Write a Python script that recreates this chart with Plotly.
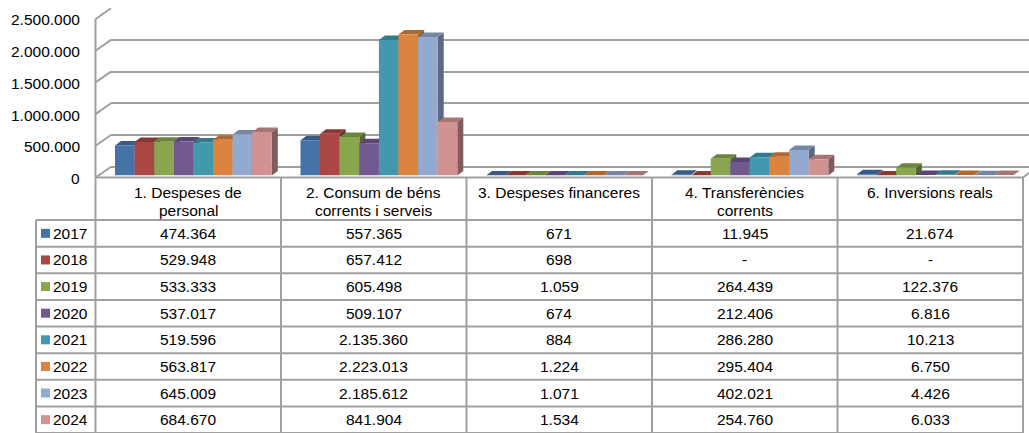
import plotly.graph_objects as go

W, H = 1029, 433

# ---------------- data ----------------
cat_line1 = ["1. Despeses de", "2. Consum de béns", "3. Despeses financeres", "4. Transferències", "6. Inversions reals"]
cat_line2 = ["personal", "corrents i serveis", "", "corrents", ""]
years = ["2017", "2018", "2019", "2020", "2021", "2022", "2023", "2024"]
v2017 = [474364, 557365, 671, 11945, 21674]
v2018 = [529948, 657412, 698, 0, 0]
v2019 = [533333, 605498, 1059, 264439, 122376]
v2020 = [537017, 509107, 674, 212406, 6816]
v2021 = [519596, 2135360, 884, 286280, 10213]
v2022 = [563817, 2223013, 1224, 295404, 6750]
v2023 = [645009, 2185612, 1071, 402021, 4426]
v2024 = [684670, 841904, 1534, 254760, 6033]
series = [v2017, v2018, v2019, v2020, v2021, v2022, v2023, v2024]
colors = ["#4572A7", "#AA4643", "#89A54E", "#71588F", "#4198AF", "#DB843D", "#93A9CF", "#D19392"]
y_ticks = [0, 500000, 1000000, 1500000, 2000000, 2500000]


def fmt(v):
    return "-" if v == 0 else f"{v:,}".replace(",", ".")


def shade(hexc, f):
    h = hexc.lstrip("#")
    r, g, b = (int(h[i:i + 2], 16) for i in (0, 2, 4))
    return "#%02x%02x%02x" % (int(r * f), int(g * f), int(b * f))


# ---------------- geometry (pixels) ----------------
TX0, TX1 = 95.5, 1023.0          # table / category columns
COLW = (TX1 - TX0) / 5
LABX0 = 36.0                      # row label column left edge
PPU = 31.7 / 500000               # pixels per unit
ZERO_FRONT = 177.5
ZERO_BAR = 175.5
ZERO_BACK = 166.7
BACK_X0 = 111.0
HEAD_BOT = 220.0
ROW_H = (433 - HEAD_BOT) / 8

GRID = "#a0a0a0"
FONT = "Liberation Sans, Arial, sans-serif"
FS = 15.5


def fx(px):
    return px / W


def fy(py):
    return 1 - py / H


fig = go.Figure()

# ---------- back wall subplot (xy): gridlines ----------
ylo_b, yhi_b = -15000, 2515000
fig.add_trace(go.Scatter(x=[0], y=[0], mode="markers", marker=dict(opacity=0),
                         xaxis="x", yaxis="y", hoverinfo="skip", showlegend=False))
fig.update_layout(
    xaxis=dict(domain=[fx(BACK_X0), 1], range=[0, 1], visible=False, fixedrange=True),
    yaxis=dict(domain=[fy(ZERO_BACK - ylo_b * PPU), fy(ZERO_BACK - yhi_b * PPU)],
               range=[ylo_b, yhi_b], tickvals=y_ticks, showticklabels=False,
               showgrid=True, gridcolor=GRID, gridwidth=2, zeroline=True,
               zerolinecolor=GRID, zerolinewidth=2, showline=False, ticks="",
               anchor="x", fixedrange=True),
)

# ---------- bars subplot (x2y2): 3D columns ----------
ylo, yhi = 0, 2600000
dx = 6 / COLW                     # depth offset in category units
dy = 4.5 / PPU                    # depth offset in value units
bw = 19.6 / COLW                  # single bar width
g0 = 19.5 / COLW                  # group start from column left

for ci in range(len(cat_line1)):
    for si, vals in enumerate(series):
        v = vals[ci]
        xl = ci - 0.5 + g0 + si * bw
        xr = xl + bw
        c = colors[si]
        # side face
        fig.add_trace(go.Scatter(
            x=[xr, xr + dx, xr + dx, xr, xr], y=[0, dy, v + dy, v, 0],
            fill="toself", fillcolor=shade(c, 0.62), mode="lines", line=dict(width=0),
            xaxis="x2", yaxis="y2", hoverinfo="skip", showlegend=False))
        # top face
        fig.add_trace(go.Scatter(
            x=[xl, xl + dx, xr + dx, xr, xl], y=[v, v + dy, v + dy, v, v],
            fill="toself", fillcolor=shade(c, 0.8), mode="lines", line=dict(width=0),
            xaxis="x2", yaxis="y2", hoverinfo="skip", showlegend=False))
        # front face
        fig.add_trace(go.Scatter(
            x=[xl, xr, xr, xl, xl], y=[0, 0, v, v, 0],
            fill="toself", fillcolor=c, mode="lines", line=dict(width=0),
            xaxis="x2", yaxis="y2", hoverinfo="skip", showlegend=False))

fig.update_layout(
    xaxis2=dict(domain=[fx(TX0), fx(TX1)], range=[-0.5, 4.5], visible=False,
                anchor="y2", fixedrange=True),
    yaxis2=dict(domain=[fy(ZERO_BAR - ylo * PPU), fy(ZERO_BAR - yhi * PPU)],
                range=[ylo, yhi], visible=False, anchor="x2", fixedrange=True),
)

shapes = []
annotations = []

# ---------- side wall + floor ----------
shapes.append(dict(type="line", xref="paper", yref="paper",
                   x0=fx(TX0), x1=fx(TX0), y0=fy(ZERO_FRONT), y1=fy(ZERO_FRONT - y_ticks[-1] * PPU),
                   line=dict(color=GRID, width=2)))
for t in y_ticks:
    shapes.append(dict(type="line", xref="paper", yref="paper",
                       x0=fx(TX0), y0=fy(ZERO_FRONT - t * PPU),
                       x1=fx(BACK_X0), y1=fy(ZERO_BACK - t * PPU),
                       line=dict(color=GRID, width=2)))
    annotations.append(dict(x=fx(82), xref="paper", xanchor="right",
                            y=t, yref="y2", yanchor="middle", yshift=-3,
                            text=fmt(t) if t else "0", showarrow=False,
                            font=dict(family=FONT, size=FS, color="#000000")))
# floor right edge
shapes.append(dict(type="line", xref="paper", yref="paper",
                   x0=fx(TX1), y0=fy(ZERO_FRONT), x1=1.0, y1=fy(ZERO_FRONT - 4.5),
                   line=dict(color=GRID, width=2)))

# ---------- data table ----------
shapes.append(dict(type="line", xref="paper", yref="paper",
                   x0=fx(TX0), x1=fx(TX1), y0=fy(ZERO_FRONT), y1=fy(ZERO_FRONT),
                   line=dict(color=GRID, width=2)))
for r in range(9):
    yy = HEAD_BOT + r * ROW_H
    shapes.append(dict(type="line", xref="paper", yref="paper",
                       x0=fx(LABX0), x1=fx(TX1), y0=fy(yy), y1=fy(yy),
                       line=dict(color=GRID, width=2)))
shapes.append(dict(type="line", xref="paper", yref="paper",
                   x0=fx(LABX0), x1=fx(LABX0), y0=fy(HEAD_BOT), y1=0,
                   line=dict(color=GRID, width=2)))
for k in range(6):
    xx = TX0 + k * COLW
    shapes.append(dict(type="line", xref="paper", yref="paper",
                       x0=fx(xx), x1=fx(xx), y0=fy(ZERO_FRONT), y1=0,
                       line=dict(color=GRID, width=2)))

for ci in range(len(cat_line1)):
    cx = TX0 + (ci + 0.5) * COLW
    annotations.append(dict(x=fx(cx), y=fy(192.7), xref="paper", yref="paper",
                            text=cat_line1[ci], showarrow=False, xanchor="center", yanchor="middle",
                            font=dict(family=FONT, size=FS, color="#000000")))
    if cat_line2[ci]:
        annotations.append(dict(x=fx(cx), y=fy(210.3), xref="paper", yref="paper",
                                text=cat_line2[ci], showarrow=False, xanchor="center", yanchor="middle",
                                font=dict(family=FONT, size=FS, color="#000000")))

for si, vals in enumerate(series):
    cy = HEAD_BOT + (si + 0.5) * ROW_H
    shapes.append(dict(type="rect", xref="paper", yref="paper",
                       x0=fx(41), x1=fx(50), y0=fy(cy + 4.5), y1=fy(cy - 4.5),
                       fillcolor=colors[si], line=dict(width=0)))
    annotations.append(dict(x=fx(51.5), y=fy(cy), xref="paper", yref="paper",
                            text=years[si], showarrow=False, xanchor="left", yanchor="middle",
                            borderpad=0,
                            font=dict(family=FONT, size=FS, color="#000000")))
    for ci, v in enumerate(vals):
        cx = TX0 + (ci + 0.5) * COLW
        annotations.append(dict(x=fx(cx), y=fy(cy), xref="paper", yref="paper",
                                text=fmt(v), showarrow=False, xanchor="center", yanchor="middle",
                                font=dict(family=FONT, size=FS, color="#000000")))

fig.update_layout(
    width=W, height=H, autosize=False,
    margin=dict(l=0, r=0, t=0, b=0),
    paper_bgcolor="#ffffff", plot_bgcolor="rgba(0,0,0,0)",
    showlegend=False, shapes=shapes, annotations=annotations,
)

fig.write_html("out.html", config={"displayModeBar": False},
               post_script="document.body.style.margin='0';document.body.style.padding='0';document.body.style.overflow='hidden';")
